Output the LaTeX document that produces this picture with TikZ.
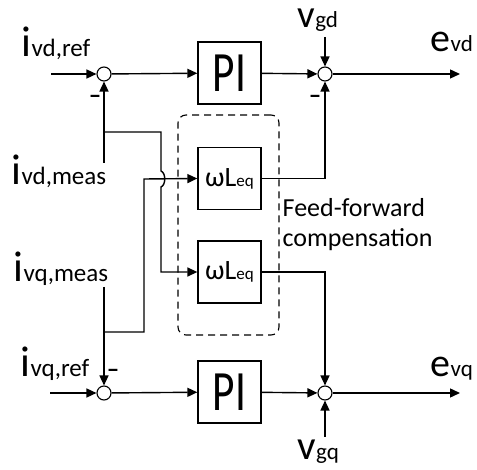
\documentclass[tikz,border=0pt]{standalone}
\usepackage{fontspec}
\setmainfont{Carlito}
\usetikzlibrary{arrows.meta}
\newcommand\twosz[4]{{\fontsize{#1pt}{#1pt}\selectfont #2}{\fontsize{#3pt}{#3pt}\selectfont #4}}
\begin{document}
\begin{tikzpicture}[x=1pt,y=-1pt,
  line width=1.4pt,
  arr/.style={-{Triangle[length=10pt,width=9pt]}},
  sumj/.style={circle,draw,line width=1.1pt,minimum size=14pt,inner sep=0pt,fill=white},
  blk/.style={draw,line width=1.3pt,minimum width=63pt,minimum height=62pt,inner sep=0pt},
  lab/.style={anchor=base west,inner sep=0pt},
  minus/.style={anchor=base,inner sep=0pt,font=\fontsize{25pt}{25pt}\selectfont\bfseries}]
\useasboundingbox (0,0) rectangle (477,470);

% dashed feed-forward frame
\node[draw,dashed,dash pattern=on 7pt off 5pt,line width=1.1pt,rounded corners=8pt,
  minimum width=101pt,minimum height=220pt] (ff) at (228.5,225) {};

% summing junctions
\node[sumj] (s1) at (104,74) {};
\node[sumj] (s2) at (325,74) {};
\node[sumj] (s3) at (104,393) {};
\node[sumj] (s4) at (325,393) {};

% blocks
\node[blk] (pi1) at (229.5,73) {\scalebox{0.76}[1]{\fontsize{57pt}{57pt}\selectfont PI}};
\node[blk] (pi2) at (229.5,392) {\scalebox{0.76}[1]{\fontsize{57pt}{57pt}\selectfont PI}};
\node[blk] (wl1) at (229.5,178.5) {\twosz{28}{ωL}{17}{eq}};
\node[blk] (wl2) at (229.5,272) {\twosz{28}{ωL}{17}{eq}};

% labels
\node[lab] (ivdref) at (21,57) {\twosz{43}{i}{25}{vd,ref}};
\node[lab] (ivdmeas) at (11,185) {\twosz{43}{i}{25}{vd,meas}};
\node[lab] (ivqmeas) at (13,282) {\twosz{43}{i}{25}{vq,meas}};
\node[lab] (ivqref) at (20,377) {\twosz{43}{i}{25}{vq,ref}};
\node[lab,text height=18pt] (vgd) at (297,28) {\twosz{39}{v}{23}{gd}};
\node[lab] (vgq) at (297,460) {\twosz{41}{v}{23}{gq}};
\node[lab] (evd) at (430,52) {\twosz{40}{e}{23}{vd}};
\node[lab] (evq) at (430,377) {\twosz{40}{e}{23}{vq}};
\node[lab,font=\fontsize{26pt}{26pt}\selectfont] (ff1) at (282,217) {Feed-forward};
\node[lab,font=\fontsize{26pt}{26pt}\selectfont] (ff2) at (282,247) {compensation};

% minus signs
\node[minus] (m1) at (95,104) {–};
\node[minus] (m2) at (315,104) {–};
\node[minus] (m3) at (113,378) {–};

% free ends
\coordinate (in1) at (51,74);
\coordinate (in3) at (50,393);
\coordinate (out1) at (460,74);
\coordinate (out3) at (460,393);
\coordinate (vgdt) at (325,37);
\coordinate (vgqt) at (325,437);
\coordinate (meas1) at (104,163);
\coordinate (meas2) at (104,287);
\coordinate (j1) at (104,132);
\coordinate (j2) at (104,332);

% d channel
\draw[arr] (in1) -- (s1);
\draw[arr] (s1) -- (pi1);
\draw[arr] (pi1) -- (s2);
\draw[arr] (vgdt) -- (s2);
\draw[arr] (s2) -- (out1);
\draw[arr] (meas1) -- (s1);
% q channel
\draw[arr] (in3) -- (s3);
\draw[arr] (s3) -- (pi2);
\draw[arr] (pi2) -- (s4);
\draw[arr] (vgqt) -- (s4);
\draw[arr] (s4) -- (out3);
\draw[arr] (meas2) -- (s3);

% cross feeds
\draw[arr] (j2) -- (144,332) -- (144,179) -- (wl1.west);
\draw[arr] (j1) -- (161,132) -- (161,171) .. controls (166,173) and (166,185) .. (161,187) -- (161,272) -- (wl2.west);
\draw[arr] (wl1.east) -- (325,178.5) -- (s2);
\draw[arr] (wl2.east) -- (325,272) -- (s4);
\end{tikzpicture}
\end{document}
